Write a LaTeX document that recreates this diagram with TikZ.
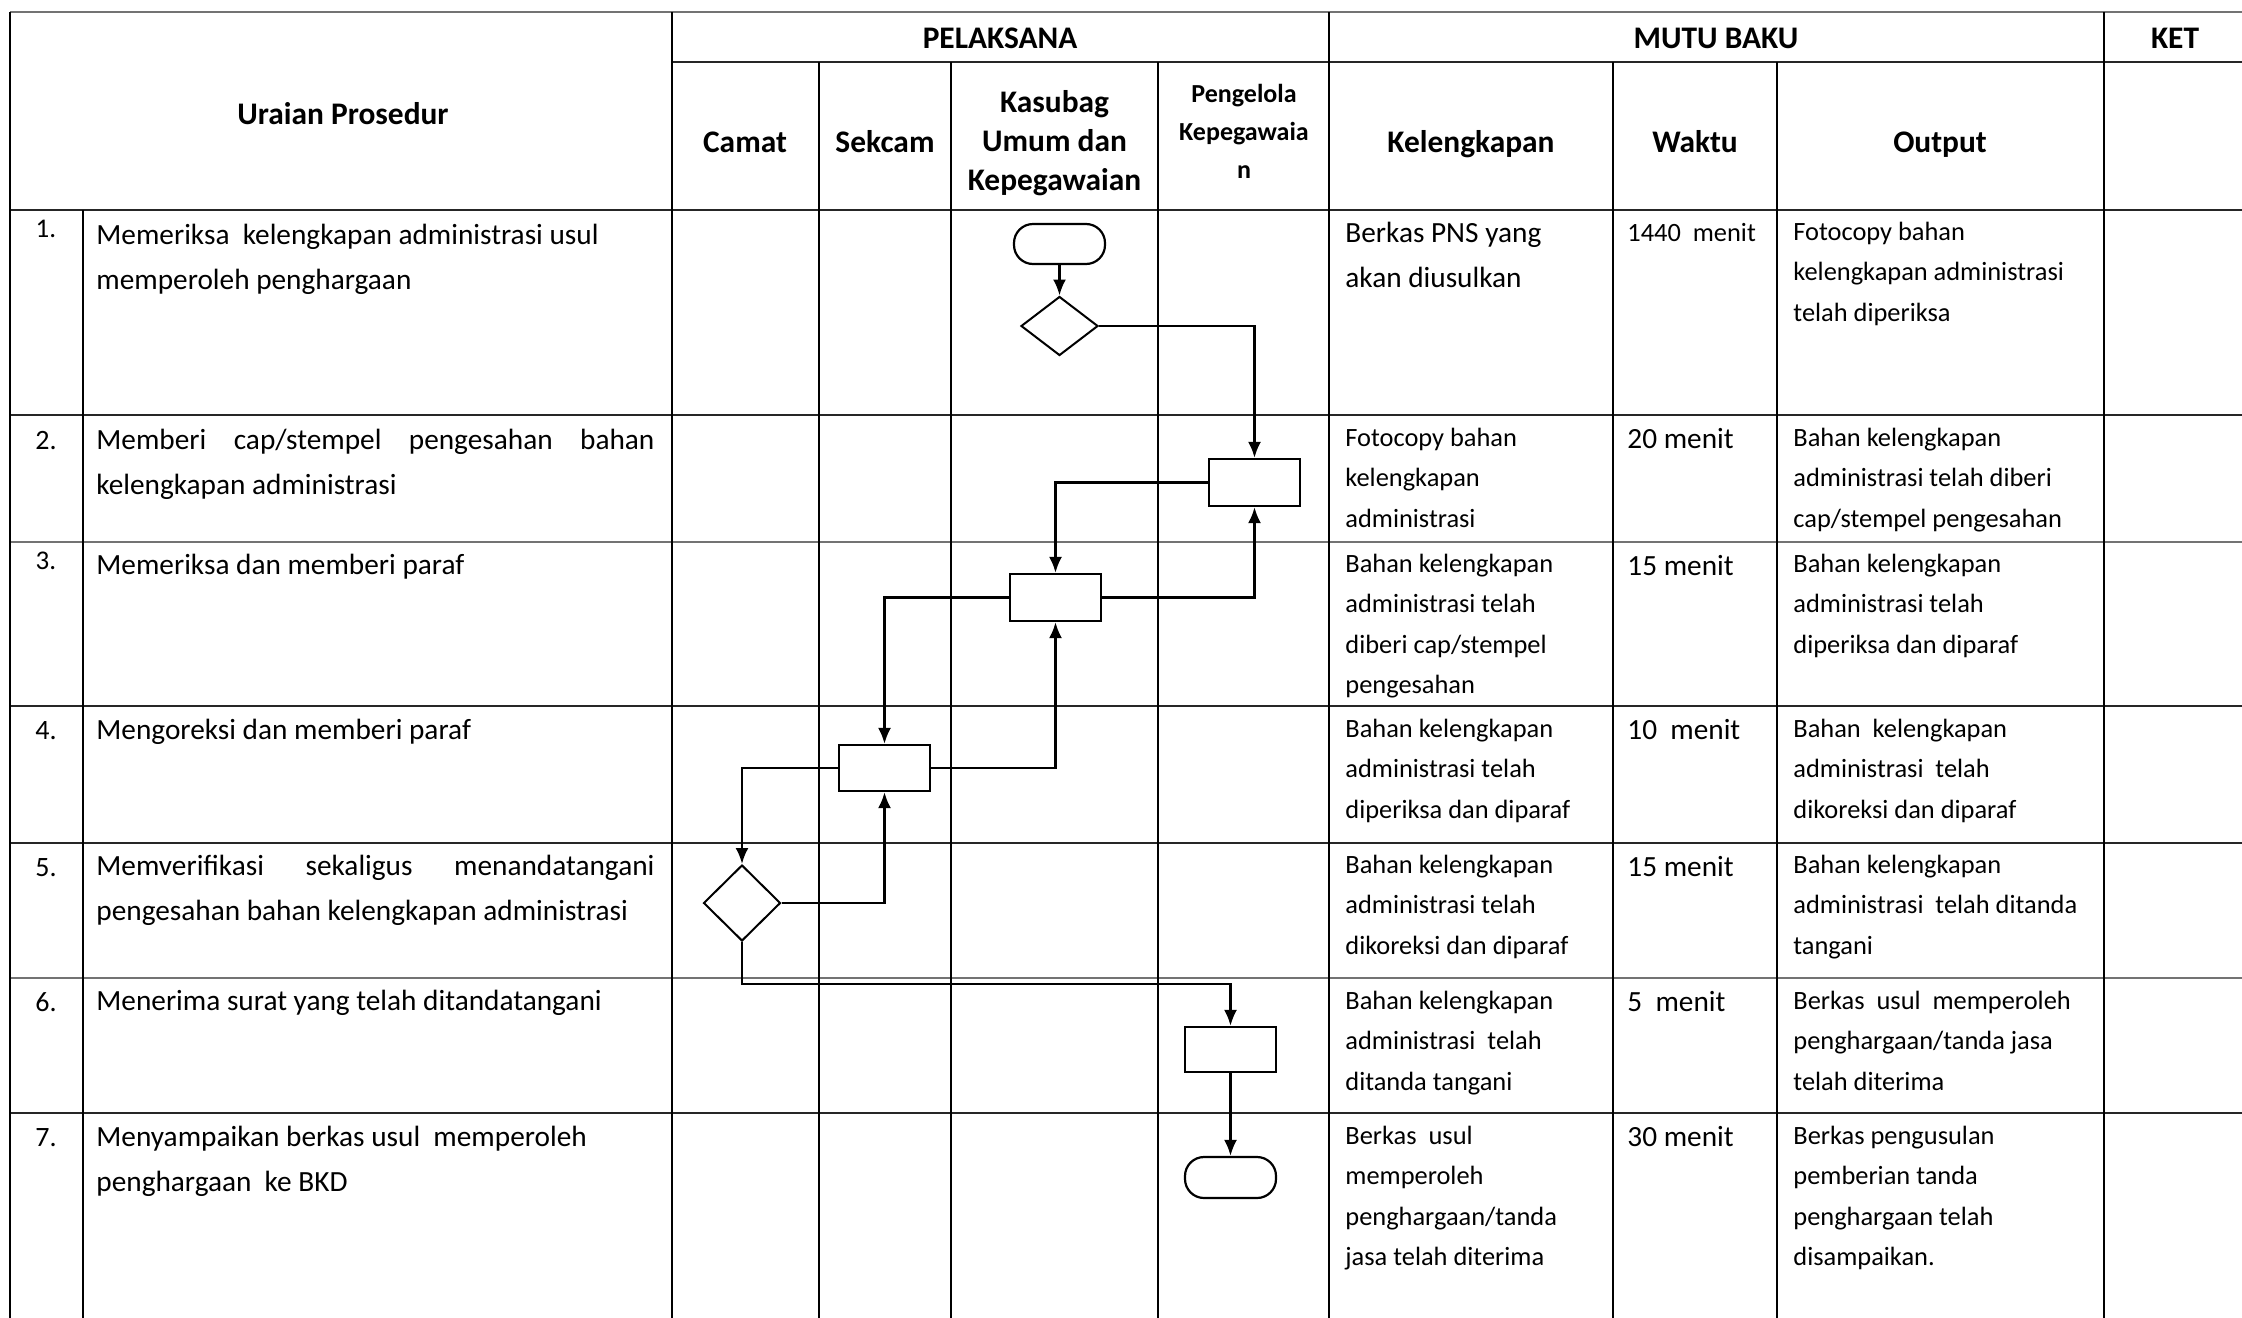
\documentclass[tikz,border=0pt]{standalone}
\usepackage{fontspec}
\setmainfont{Carlito}
\usetikzlibrary{arrows.meta,shapes.geometric}
\newcommand{\bigtxt}[1]{\parbox[t]{290pt}{\raggedright\fontsize{14.65}{22.5}\selectfont #1}}
\newcommand{\smalltxt}[1]{\parbox[t]{160pt}{\raggedright\fontsize{13.2}{20.25}\selectfont #1}}
\newcommand{\jline}[1]{\makebox[279pt][s]{#1}}
\begin{document}
\begin{tikzpicture}[x=0.5pt,y=-0.5pt,
  gridv/.style={line width=0.75pt, black},
  gridh/.style={line width=0.75pt, black!85},
  gridg/.style={line width=1.1pt, black!55},
  flow/.style={line width=1.25pt, -{Latex[length=8pt,width=6.5pt]}},
  procbox/.style={draw, line width=1.1pt, minimum width=45.5pt, minimum height=23.5pt, inner sep=0},
  term/.style={draw, line width=1.1pt, rounded corners=9.5pt, minimum width=45.5pt, minimum height=20pt, inner sep=0},
  dec/.style={draw, diamond, line width=1pt, inner sep=0},
  hdr/.style={anchor=base, inner sep=0, font=\fontsize{15.7}{19.5}\selectfont\bfseries},
  txt/.style={anchor=base west, inner sep=0},
  num/.style={anchor=base, inner sep=0, font=\fontsize{14}{16}\selectfont}
]
\useasboundingbox (0,0) rectangle (2242,1317);
\clip (0,0) rectangle (2242,1317);

% ---------- table grid ----------
\draw[gridg] (10,12) -- (2260,12);
\draw[gridh] (672,62) -- (2260,62);
\foreach \yy in {210,415,706,843,1113} {\draw[gridh] (10,\yy) -- (2260,\yy);}
\foreach \yy in {542,978} {\draw[gridg] (10,\yy) -- (2260,\yy);}
\draw[gridv] (10,12) -- (10,1330);
\draw[gridv] (83,210) -- (83,1330);
\foreach \xx in {672,1329,2104} {\draw[gridv] (\xx,12) -- (\xx,1330);}
\foreach \xx in {819,951,1158,1613,1777} {\draw[gridv] (\xx,62) -- (\xx,1330);}

% ---------- header ----------
\node[hdr] (hU) at (343,124) {Uraian Prosedur};
\node[hdr] (hP) at (1000,48) {PELAKSANA};
\node[hdr] (hM) at (1716,48) {MUTU BAKU};
\node[hdr] (hK) at (2175,48) {KET};
\node[hdr] (hC) at (745,152) {Camat};
\node[hdr] (hS) at (885,152) {Sekcam};
\node[anchor=base, inner sep=0] (hKs) at (1054.5,112) {\parbox[t]{110pt}{\centering\fontsize{15.7}{19.5}\selectfont\bfseries Kasubag\\Umum dan\\Kepegawaian}};
\node[anchor=base, inner sep=0] (hPg) at (1244,102) {\parbox[t]{90pt}{\centering\fontsize{13}{19.2}\selectfont\bfseries Pengelola\\Kepegawaia\\n}};
\node[hdr] (hKl) at (1471,152) {Kelengkapan};
\node[hdr] (hW) at (1695,152) {Waktu};
\node[hdr] (hO) at (1940,152) {Output};

% ---------- numbers ----------
\node[num, font=\fontsize{13.5}{15}\selectfont] (n1) at (46,237) {1.};
\node[num] (n2) at (46,449) {2.};
\node[num, font=\fontsize{13.5}{15}\selectfont] (n3) at (46,569) {3.};
\node[num] (n4) at (46,739) {4.};
\node[num] (n5) at (46,876) {5.};
\node[num] (n6) at (46,1011) {6.};
\node[num] (n7) at (46,1146) {7.};

% ---------- uraian ----------
\node[txt] (u1) at (96,244) {\bigtxt{Memeriksa\ \ kelengkapan administrasi usul\\memperoleh penghargaan}};
\node[txt] (u2) at (96,449) {\bigtxt{\jline{Memberi cap/stempel pengesahan bahan}\\kelengkapan administrasi}};
\node[txt] (u3) at (96,574) {\bigtxt{Memeriksa dan memberi paraf}};
\node[txt] (u4) at (96,739) {\bigtxt{Mengoreksi dan memberi paraf}};
\node[txt] (u5) at (96,875) {\bigtxt{\jline{Memverifikasi sekaligus menandatangani}\\pengesahan bahan kelengkapan administrasi}};
\node[txt] (u6) at (96,1010) {\bigtxt{Menerima surat yang telah ditandatangani}};
\node[txt] (u7) at (96,1146) {\bigtxt{Menyampaikan berkas usul\ \ memperoleh\\penghargaan\ \ ke BKD}};

% ---------- kelengkapan ----------
\node[txt] (k1) at (1345,242) {\bigtxt{Berkas PNS yang\\akan diusulkan}};
\node[txt] (k2) at (1345,446) {\smalltxt{Fotocopy bahan\\kelengkapan\\administrasi}};
\node[txt] (k3) at (1345,572) {\smalltxt{Bahan kelengkapan\\administrasi telah\\diberi cap/stempel\\pengesahan}};
\node[txt] (k4) at (1345,737) {\smalltxt{Bahan kelengkapan\\administrasi telah\\diperiksa dan diparaf}};
\node[txt] (k5) at (1345,873) {\smalltxt{Bahan kelengkapan\\administrasi telah\\dikoreksi dan diparaf}};
\node[txt] (k6) at (1345,1009) {\smalltxt{Bahan kelengkapan\\administrasi\ \ telah\\ditanda tangani}};
\node[txt] (k7) at (1345,1144) {\smalltxt{Berkas\ \ usul\\memperoleh\\penghargaan/tanda\\jasa telah diterima}};

% ---------- waktu ----------
\node[txt] (w1) at (1627,241) {\smalltxt{1440\ \ menit}};
\node[txt] (w2) at (1627,448) {\bigtxt{20 menit}};
\node[txt] (w3) at (1627,575) {\bigtxt{15 menit}};
\node[txt] (w4) at (1627,739) {\bigtxt{10\ \ menit}};
\node[txt] (w5) at (1627,876) {\bigtxt{15 menit}};
\node[txt] (w6) at (1627,1011) {\bigtxt{5\ \ menit}};
\node[txt] (w7) at (1627,1146) {\bigtxt{30 menit}};

% ---------- output ----------
\node[txt] (o1) at (1793,240) {\smalltxt{Fotocopy bahan\\kelengkapan administrasi\\telah diperiksa}};
\node[txt] (o2) at (1793,446) {\smalltxt{Bahan kelengkapan\\administrasi telah diberi\\cap/stempel pengesahan}};
\node[txt] (o3) at (1793,572) {\smalltxt{Bahan kelengkapan\\administrasi telah\\diperiksa dan diparaf}};
\node[txt] (o4) at (1793,737) {\smalltxt{Bahan\ \ kelengkapan\\administrasi\ \ telah\\dikoreksi dan diparaf}};
\node[txt] (o5) at (1793,873) {\smalltxt{Bahan kelengkapan\\administrasi\ \ telah ditanda\\tangani}};
\node[txt] (o6) at (1793,1009) {\smalltxt{Berkas\ \ usul\ \ memperoleh\\penghargaan/tanda jasa\\telah diterima}};
\node[txt] (o7) at (1793,1144) {\smalltxt{Berkas pengusulan\\pemberian tanda\\penghargaan telah\\disampaikan.}};

% ---------- flow shapes ----------
\node[term] (S) at (1059.5,244) {};
\node[dec, minimum width=38.5pt, minimum height=29.5pt] (D1) at (1059.5,326) {};
\node[procbox] (B2) at (1254.5,482.5) {};
\node[procbox] (B3) at (1055.5,597.5) {};
\node[procbox, minimum height=23pt] (B4) at (884.5,768) {};
\node[dec, minimum width=38.5pt, minimum height=38pt] (D5) at (742,903) {};
\node[procbox, minimum height=22.5pt] (B6) at (1230.5,1049.5) {};
\node[term, minimum height=20.5pt] (E) at (1230.5,1177.5) {};
\coordinate (j1) at (742,984);

% ---------- connectors ----------
\draw[flow] (S) -- (D1);
\draw[flow] (D1.east) -| (B2.north);
\draw[flow] (B2.west) -| (B3.north);
\draw[flow] (B3.east) -| (B2.south);
\draw[flow] (B3.west) -| (B4.north);
\draw[flow] (B4.east) -| (B3.south);
\draw[flow] (B4.west) -| (D5.north);
\draw[flow] (D5.east) -| (B4.south);
\draw[flow] (D5.south) -- (j1) -| (B6.north);
\draw[flow] (B6) -- (E);
\end{tikzpicture}
\end{document}
